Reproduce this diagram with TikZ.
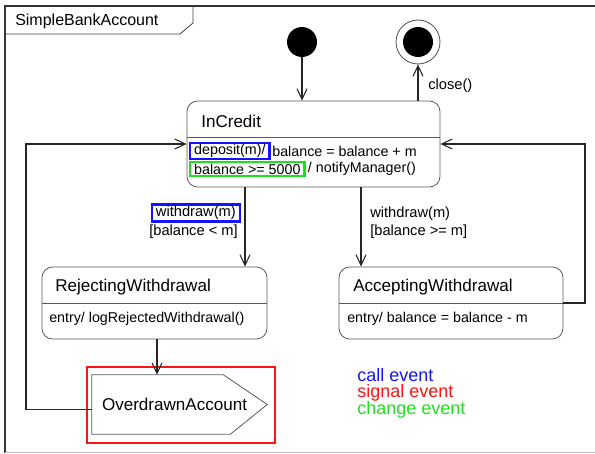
\documentclass[tikz,border=0pt]{standalone}
\usepackage{fontspec}
\setmainfont{Liberation Sans}
\usetikzlibrary{arrows.meta,fit}

\definecolor{callcol}{RGB}{20,20,250}
\definecolor{sigcol}{RGB}{250,20,20}
\definecolor{chgcol}{RGB}{30,225,30}

\tikzset{
  state/.style={draw=black!65, line width=.6pt, rounded corners=8pt, inner sep=0pt},
  sname/.style={anchor=west, inner sep=0pt, font=\fontsize{12.8}{15}\selectfont},
  sbody/.style={anchor=west, inner sep=0pt, font=\fontsize{10.7}{13}\selectfont},
  glabel/.style={inner sep=0pt, font=\fontsize{11}{13}\selectfont},
  trans/.style={draw=black!85, line width=.8pt, -{Straight Barb[length=8pt,width=7.5pt]}},
  hilite/.style={draw=#1, line width=1.8pt, inner xsep=3pt, inner ysep=1.2pt},
  legend/.style={anchor=west, inner sep=0pt, font=\fontsize{13.5}{16}\selectfont},
}

\begin{document}
\begin{tikzpicture}[x=0.75pt, y=-0.75pt]
  \useasboundingbox (0,0) rectangle (595,453);
  % frame
  \draw[black!80, line width=.8pt] (5,453) -- (5,6) -- (595,6);
  \draw[black!25, line width=.6pt] (5,452) -- (595,452);
  \draw[black!75, line width=.6pt] (5,34) -- (180,34) -- (193,23) -- (193,6);
  \node[anchor=west, inner sep=0pt, font=\fontsize{12}{14}\selectfont] (title) at (15,21) {SimpleBankAccount};

  % helper x positions
  \coordinate (xl) at (26,0);
  \coordinate (xr) at (585,0);
  \coordinate (xrej) at (245,0);
  \coordinate (xacc) at (361,0);
  \coordinate (xov) at (157,0);

  % pseudo states
  \node[circle, fill=black, minimum size=22.5pt, inner sep=0pt] (init) at (302,42) {};
  \node[circle, draw=black!70, line width=.6pt, minimum size=33pt, inner sep=0pt] (final) at (418,42) {};
  \node[circle, fill=black, minimum size=22.5pt, inner sep=0pt] (finalin) at (final) {};

  % InCredit
  \node[state, fit={(187,101) (440,187)}] (incredit) {};
  \draw[black!65, line width=.6pt] ([yshift=5.25pt]incredit.west) -- ([yshift=5.25pt]incredit.east);
  \node[sname] (incname) at (201,121) {InCredit};
  \node[sbody, hilite=callcol, anchor=west] (dep) at (189,151) {deposit(m)/};
  \node[sbody] (depact) at ([xshift=1pt]dep.east) {balance = balance + m};
  \node[sbody, hilite=chgcol, anchor=west] (chg) at (189,169) {balance >= 5000};
  \node[sbody] (chgact) at ([xshift=1.5pt]chg.east) {/ notifyManager()};

  % RejectingWithdrawal
  \node[state, fit={(42,267) (267,339)}] (rejecting) {};
  \draw[black!65, line width=.6pt] (rejecting.west) -- (rejecting.east);
  \node[sname] (rejname) at (55,287) {RejectingWithdrawal};
  \node[sbody] (rejbody) at (49,319) {entry/ logRejectedWithdrawal()};

  % AcceptingWithdrawal
  \node[state, fit={(339,267) (563,339)}] (accepting) {};
  \draw[black!65, line width=.6pt] (accepting.west) -- (accepting.east);
  \node[sname] (accname) at (353,287) {AcceptingWithdrawal};
  \node[sbody] (accbody) at (347,319) {entry/ balance = balance - m};

  % OverdrawnAccount (signal)
  \node[inner xsep=7.5pt, inner ysep=0pt, text width=116.25pt, align=left,
        minimum height=44.25pt, font=\fontsize{12.8}{15}\selectfont] (overdrawn) at (179.5,404.5) {OverdrawnAccount};
  \draw[black!65, line width=.6pt] (overdrawn.north west) -- ([xshift=-33pt]overdrawn.north east)
    -- (overdrawn.east) -- ([xshift=-27.75pt]overdrawn.south east) -- (overdrawn.south west) -- cycle;
  \node[draw=sigcol, line width=2.2pt, inner sep=0pt, fit={(87,367) (275,443)}] (sigbox) {};

  % transitions
  \draw[trans] (init) -- (init |- incredit.north);
  \draw[trans] (final |- incredit.north) -- (final.south);
  \node[glabel, anchor=west] (lclose) at (428,86) {close()};

  \draw[trans] (incredit.south -| xrej) -- (rejecting.north -| xrej);
  \node[glabel, hilite=callcol, anchor=east] (wr1) at (241,213) {withdraw(m)};
  \node[glabel, anchor=east] (wr2) at (238,232) {[balance < m]};

  \draw[trans] (incredit.south -| xacc) -- (accepting.north -| xacc);
  \node[glabel, anchor=west] (wa1) at (370,214) {withdraw(m)};
  \node[glabel, anchor=west] (wa2) at (370,232) {[balance >= m]};

  \draw[trans] (rejecting.south -| xov) -- (overdrawn.north -| xov);

  \coordinate (ovin) at ([yshift=-4pt]overdrawn.west);
  \draw[trans] (ovin) -- (ovin -| xl) |- (incredit.west);
  \draw[trans] (accepting.east) -- (accepting.east -| xr) |- (incredit.east);

  % legend
  \node[legend, text=callcol] (lcall) at (357,375) {call event};
  \node[legend, text=sigcol] (lsig) at (357,393) {signal event};
  \node[legend, text=chgcol] (lchg) at (357,410) {change event};
\end{tikzpicture}
\end{document}
